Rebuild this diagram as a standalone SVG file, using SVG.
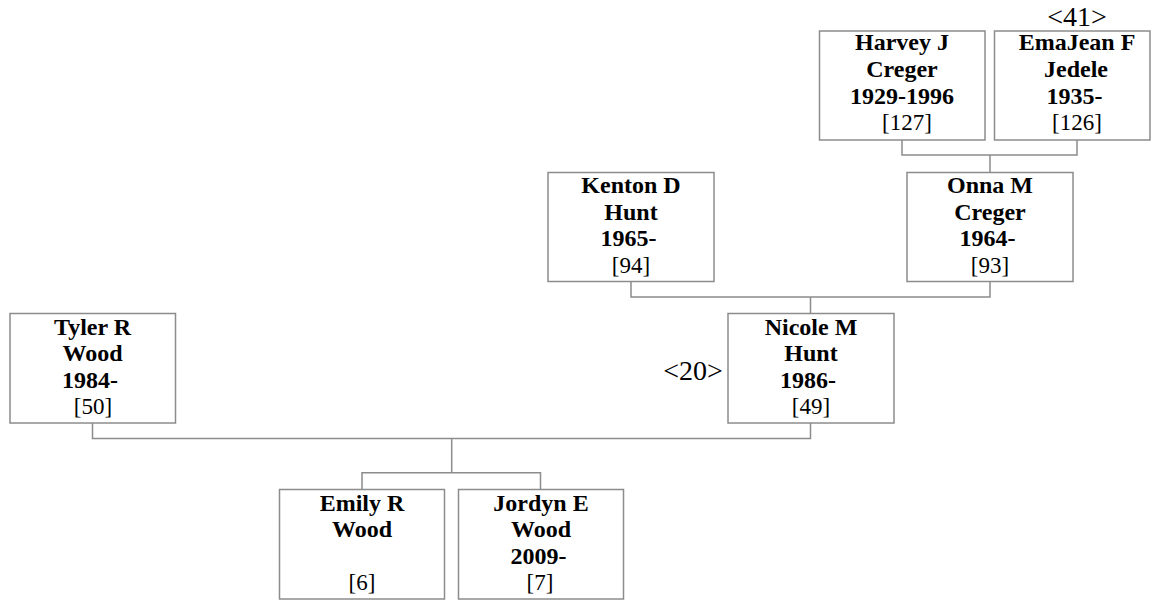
<svg xmlns="http://www.w3.org/2000/svg" width="1166" height="600" viewBox="0 0 1166 600">
<style>
.box{fill:#fff;stroke:#8c8c8c;stroke-width:1.5}
.con{fill:none;stroke:#8c8c8c;stroke-width:1.5}
text{font-family:"Liberation Serif","Times New Roman",serif;font-size:23px;fill:#000;text-anchor:middle}
.b{font-weight:bold;font-size:24px}
.m{font-size:28px}
</style>
<rect width="1166" height="600" fill="#fff"/>
<g id="connectors">
<path class="con" d="M902,140 V155 H1077 V140 M990,155 V172.5"/>
<path class="con" d="M631,281.5 V297 H990 V281.5 M810.5,297 V313.5"/>
<path class="con" d="M92.5,423 V438.5 H810.5 V423 M451.7,438.5 V472.7 M362,489.5 V472.7 H540.5 V489.5"/>
</g>
<g id="harvey">
<rect class="box" x="819.5" y="31" width="165.5" height="109"/>
<text class="b" x="902" y="50">Harvey J</text>
<text class="b" x="902" y="77">Creger</text>
<text class="b" x="902" y="104">1929-1996</text>
<text x="907" y="130">[127]</text>
</g>
<g id="emajean">
<rect class="box" x="994.5" y="31" width="155.5" height="109"/>
<text class="m" x="1077" y="26">&lt;41&gt;</text>
<text class="b" x="1077" y="50">EmaJean F</text>
<text class="b" x="1076" y="77">Jedele</text>
<text class="b" x="1074.5" y="104">1935-</text>
<text x="1077" y="130">[126]</text>
</g>
<g id="kenton">
<rect class="box" x="548" y="172.5" width="166" height="109"/>
<text class="b" x="631" y="193">Kenton D</text>
<text class="b" x="631" y="219.5">Hunt</text>
<text class="b" x="628.5" y="246">1965-</text>
<text x="631" y="273">[94]</text>
</g>
<g id="onna">
<rect class="box" x="907" y="172.5" width="166" height="109"/>
<text class="b" x="990" y="193">Onna M</text>
<text class="b" x="990" y="219.5">Creger</text>
<text class="b" x="987.5" y="246">1964-</text>
<text x="990" y="273">[93]</text>
</g>
<g id="tyler">
<rect class="box" x="10" y="313.5" width="165.5" height="109.5"/>
<text class="b" x="92.5" y="334.5">Tyler R</text>
<text class="b" x="92.5" y="361">Wood</text>
<text class="b" x="90" y="387.5">1984-</text>
<text x="93" y="414">[50]</text>
</g>
<g id="nicole">
<rect class="box" x="728" y="313.5" width="166" height="109.5"/>
<text class="m" x="693" y="380">&lt;20&gt;</text>
<text class="b" x="811" y="334.5">Nicole M</text>
<text class="b" x="811" y="361">Hunt</text>
<text class="b" x="808" y="387.5">1986-</text>
<text x="811" y="414">[49]</text>
</g>
<g id="emily">
<rect class="box" x="279.5" y="489.5" width="165" height="109.5"/>
<text class="b" x="362" y="510.5">Emily R</text>
<text class="b" x="362" y="537">Wood</text>
<text x="362" y="590">[6]</text>
</g>
<g id="jordyn">
<rect class="box" x="458.5" y="489.5" width="165" height="109.5"/>
<text class="b" x="541" y="510.5">Jordyn E</text>
<text class="b" x="541" y="537">Wood</text>
<text class="b" x="538.5" y="563.5">2009-</text>
<text x="540" y="590">[7]</text>
</g>
</svg>
